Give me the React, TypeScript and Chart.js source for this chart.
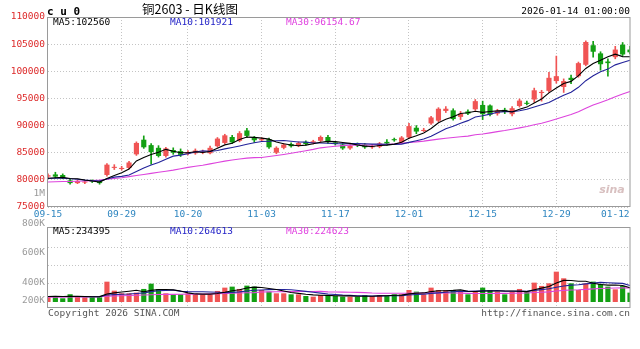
import React, { useEffect, useRef } from 'react';
import { Chart, registerables } from 'chart.js';

Chart.register(...registerables);

// ---------- data ----------
const dates = [
  '09-15','09-16','09-17','09-18','09-19','09-22','09-23','09-24','09-25','09-26','09-29','09-30',
  '10-09','10-10','10-13','10-14','10-15','10-16','10-17','10-20','10-21','10-22','10-23','10-24','10-27','10-28','10-29','10-30','10-31',
  '11-03','11-04','11-05','11-06','11-07','11-10','11-11','11-12','11-13','11-14','11-17','11-18','11-19','11-20','11-21','11-24','11-25','11-26','11-27','11-28',
  '12-01','12-02','12-03','12-04','12-05','12-08','12-09','12-10','12-11','12-12','12-15','12-16','12-17','12-18','12-19','12-22','12-23','12-24','12-25','12-26','12-29','12-30','12-31',
  '01-05','01-06','01-07','01-08','01-09','01-12','01-13','01-14',
];

const axisDates = ['09-15', '09-29', '10-20', '11-03', '11-17', '12-01', '12-15', '12-29', '01-12'];
const gridDates = ['09-29', '10-20', '11-03', '11-17', '12-01', '12-15', '12-29'];

const openP = [
  80600, 81000, 80900, 79900, 79400, 79500, 79800, 79700, 80900, 82200, 82000, 82200,
  84700, 87400, 86400, 85900, 84400, 85500, 85300, 84800, 84900, 85000, 84900, 86200, 86800, 87900, 87200, 89100, 87800,
  87300, 87500, 85000, 85900, 86600, 86300, 87000, 86800, 87200, 87900, 86900, 86500, 85800, 86600, 86500, 86000, 86100, 87000, 87500, 86900,
  87800, 89600, 89000, 90400, 90900, 92700, 92800, 91600, 92600, 93000, 93800, 93700, 92200, 92900, 92100, 93600, 94200, 94800, 96000, 96400, 98200, 97100, 98800,
  99100, 101200, 104800, 103300, 101800, 102600, 104900, 104000,
];
const highP = [
  81100, 81400, 81100, 80100, 80000, 79900, 80000, 79900, 83000, 82800, 82500, 83400,
  87000, 88100, 86700, 86300, 86000, 85900, 85700, 85400, 85700, 85500, 86200, 87800, 88400, 88200, 88900, 89500, 88000,
  87800, 87700, 86100, 86700, 86800, 87000, 87200, 87300, 88100, 88200, 87100, 86700, 86500, 86800, 86700, 86500, 86900, 87400, 87700, 88000,
  90400, 90000, 89500, 91700, 93300, 93500, 93100, 92600, 92900, 94800, 94500, 93800, 93000, 93200, 93500, 94900, 94500, 96900, 96500, 99800, 102800, 98600, 99300,
  101700, 105600, 105500, 103600, 102300, 104600, 105300, 104600,
];
const lowP = [
  80400, 80300, 80200, 79200, 79300, 79300, 79500, 79200, 80700, 81900, 81800, 82000,
  84500, 85800, 82900, 84200, 84200, 84700, 84300, 84600, 84700, 84800, 84800, 86000, 86600, 86700, 87000, 87800, 86900,
  87100, 85800, 84800, 85700, 86000, 86100, 86400, 86600, 87000, 86700, 86400, 85600, 85600, 86100, 85800, 85800, 85900, 86400, 87100, 86700,
  87600, 88500, 88900, 90200, 90700, 92400, 91000, 91100, 92000, 92800, 91100, 91800, 91900, 92200, 91800, 93400, 93800, 94300, 94500, 96100, 97800, 96100, 97700,
  98900, 101000, 102600, 100200, 99100, 102300, 102900, 103200,
];
const closeP = [
  80850, 80600, 80400, 79400, 79800, 79650, 79700, 79400, 82800, 82400, 82200, 83200,
  86800, 86000, 85100, 84400, 85800, 85000, 84600, 85100, 85400, 85100, 85900, 87600, 88200, 86900, 88600, 88100, 87300,
  87500, 86000, 85900, 86500, 86200, 86800, 86600, 87100, 87900, 87000, 86600, 85800, 86300, 86400, 86000, 86200, 86700, 86700, 87300, 87800,
  89900, 88900, 89200, 91500, 93100, 93100, 91200, 92200, 92200, 94500, 92100, 92000, 92700, 92500, 93200, 94600, 94000, 96500, 96200, 98800, 99100, 98200, 98400,
  101500, 105400, 103600, 101300, 101500, 104000, 103100, 103500,
];
const volume = [
  87600, 99800, 61200, 128400, 88300, 77100, 76800, 77400, 337200, 187900, 144300, 143800,
  155200, 216400, 304100, 215600, 144100, 127300, 126800, 143600, 127200, 126900, 127500, 183100, 238200, 254800, 216300, 271200, 255400,
  199100, 172300, 143900, 144200, 127100, 126600, 99700, 88200, 116100, 115800, 100200, 87900, 88400, 87800, 116300, 99600, 116200, 100400, 127100, 126700,
  199300, 171800, 127400, 238100, 198800, 199200, 199600, 172100, 127200, 171700, 238400, 198900, 172200, 126900, 172400, 216100, 171900, 321300, 266200, 310100, 503400, 393200, 309800,
  199400, 310300, 338100, 299200, 254700, 210100, 266300, 155200,
];

// moving-average values at the start of the window
const ma5Head = [80300, 80400, 80450, 80250];
const ma10Head = [80250, 80300, 80300, 80200, 80100, 79950, 79850, 79800, 80150];
const ma30Head = [
  79600, 79650, 79700, 79700, 79750, 79800, 79850, 79950, 80100, 80250, 80400, 80600, 80800, 81000, 81200,
  81400, 81600, 81800, 82050, 82300, 82500, 82700, 82950, 83200, 83450, 83650, 83850, 84000, 84100,
];
const volMa5Head = [92000, 93000, 90000, 94000];
const volMa10Head = [91000, 92000, 91000, 92000, 91000, 89000, 88000, 88000, 115000];
const volMa30Head = [
  80000, 81000, 81000, 83000, 84000, 85000, 86000, 88000, 96000, 100000, 104000, 107000, 111000, 116000, 121000,
  124000, 126000, 127000, 128000, 130000, 131000, 133000, 134000, 137000, 141000, 145000, 148000, 152000, 156000,
];

const priceMaLabels = ['MA5:102560', 'MA10:101921', 'MA30:96154.67'];
const volMaLabels = ['MA5:234395', 'MA10:264613', 'MA30:224623'];
const volAxisLabels = ['800K', '600K', '400K', '200K'];
const volGridValues = [300000, 600000, 900000];
const titleText = '铜2603 - 日K线图';
const symbolText = 'c u 0';
const timeText = '2026-01-14 01:00:00';
const copyrightText = 'Copyright 2026 SINA.COM';
const urlText = 'http://finance.sina.com.cn';

// ---------- styles ----------
const RED = '#f05454';
const GREEN = '#13a013';
const MA_COLORS = ['#000000', '#23239a', '#dd44dd'];
const LEGEND_COLORS = ['#000000', '#2424c8', '#e040e0'];
const MONO = '"DejaVu Sans Mono", monospace';
const GRID = '#c4c4c4';
const FRAME = '#9a9a9a';

function movingAverage(values: number[], n: number, head: number[]) {
  return values.map((_, i) => {
    if (i < n - 1) return head[i];
    let s = 0;
    for (let k = i - n + 1; k <= i; k++) s += values[k];
    return s / n;
  });
}

const candleColors = closeP.map((c, i) => (c >= openP[i] ? RED : GREEN));

function drawText(ctx: CanvasRenderingContext2D, s: string, x: number, y: number, color: string, font: string, align: CanvasTextAlign = 'left') {
  ctx.save();
  ctx.font = font;
  ctx.fillStyle = color;
  ctx.textAlign = align;
  ctx.textBaseline = 'middle';
  ctx.fillText(s, x, y);
  ctx.restore();
}

function drawFrame(chart: any) {
  const a = chart.chartArea;
  const ctx = chart.ctx;
  ctx.save();
  ctx.strokeStyle = FRAME;
  ctx.lineWidth = 1;
  ctx.strokeRect(Math.round(a.left) - 0.5, Math.round(a.top) + 0.5, Math.round(a.right - a.left) + 0.5, Math.round(a.bottom - a.top) - 1);
  ctx.restore();
}

const gridColor = (ctx: any) => (gridDates.includes(dates[ctx.index]) ? GRID : 'rgba(0,0,0,0)');

const pricePlugin = {
  id: 'priceDecor',
  afterDraw(chart: any) {
    const ctx = chart.ctx as CanvasRenderingContext2D;
    const a = chart.chartArea;
    drawFrame(chart);
    drawText(ctx, symbolText, a.left - 1, 12, '#000', `bold 11px ${MONO}`);
    drawText(ctx, titleText, 190, 9, '#000', '12.5px "Noto Sans CJK SC", sans-serif', 'center');
    drawText(ctx, timeText, a.right, 12, '#000', `9.5px ${MONO}`, 'right');
    const xs = [a.left + 5, a.left + 122, a.left + 238];
    priceMaLabels.forEach((s, k) => drawText(ctx, s, xs[k], a.top + 6, LEGEND_COLORS[k], `9.5px ${MONO}`));
    drawText(ctx, '1M', a.left - 3, a.bottom - 13, '#999', `9.5px ${MONO}`, 'right');
    drawText(ctx, 'sina', a.right - 18, a.bottom - 17, 'rgba(190,150,150,0.6)', `italic bold 11px "DejaVu Sans", sans-serif`, 'center');
  },
};

const volPlugin = {
  id: 'volDecor',
  afterDraw(chart: any) {
    const ctx = chart.ctx as CanvasRenderingContext2D;
    const a = chart.chartArea;
    drawFrame(chart);
    const xs = [a.left + 5, a.left + 122, a.left + 238];
    volMaLabels.forEach((s, k) => drawText(ctx, s, xs[k], a.top + 5, LEGEND_COLORS[k], `9.5px ${MONO}`));
    const h = a.bottom - a.top;
    const ys = [a.top - 3, a.top + h * 0.32, a.top + h * 0.68, a.bottom - 7];
    volAxisLabels.forEach((s, k) => drawText(ctx, s, a.left - 3, ys[k], '#9a9a9a', `9.5px ${MONO}`, 'right'));
    drawText(ctx, copyrightText, a.left, a.bottom + 6, '#555', `9.5px ${MONO}`);
    drawText(ctx, urlText, a.right, a.bottom + 6, '#555', `9.5px ${MONO}`, 'right');
  },
};

function lineDs(label: string, data: number[], color: string) {
  return {
    type: 'line' as const,
    label,
    data,
    borderColor: color,
    borderWidth: 1.1,
    pointRadius: 0,
    tension: 0,
    order: 0,
  };
}

export default function App() {
  const priceRef = useRef<HTMLCanvasElement>(null);
  const volRef = useRef<HTMLCanvasElement>(null);

  useEffect(() => {
    const ma5 = movingAverage(closeP, 5, ma5Head);
    const ma10 = movingAverage(closeP, 10, ma10Head);
    const ma30 = movingAverage(closeP, 30, ma30Head);
    const vma5 = movingAverage(volume, 5, volMa5Head);
    const vma10 = movingAverage(volume, 10, volMa10Head);
    const vma30 = movingAverage(volume, 30, volMa30Head);

    const xCommon = (showLabels: boolean, height: number) => ({
      type: 'category' as const,
      offset: false,
      grid: { offset: false, color: gridColor, drawTicks: false, lineWidth: 1 },
      border: { display: false, dash: [1, 2] },
      ticks: {
        display: showLabels,
        autoSkip: false,
        maxRotation: 0,
        minRotation: 0,
        padding: 2,
        color: '#2f86c0',
        font: { family: MONO, size: 9.5 },
        callback: (_v: any, i: number) => (axisDates.includes(dates[i]) ? dates[i] : ''),
      },
      afterFit: (s: any) => { s.height = height; },
    });

    const priceChart = new Chart(priceRef.current!, {
      type: 'bar',
      data: {
        labels: dates,
        datasets: [
          lineDs('MA5', ma5, MA_COLORS[0]),
          lineDs('MA10', ma10, MA_COLORS[1]),
          lineDs('MA30', ma30, MA_COLORS[2]),
          {
            type: 'bar',
            label: 'body',
            data: openP.map((o, i) => [o, closeP[i]]) as any,
            backgroundColor: candleColors,
            barPercentage: 0.7,
            categoryPercentage: 1,
            minBarLength: 1,
            grouped: false,
            order: 1,
          } as any,
          {
            type: 'bar',
            label: 'wick',
            data: lowP.map((l, i) => [l, highP[i]]) as any,
            backgroundColor: candleColors,
            barThickness: 1,
            grouped: false,
            order: 2,
          } as any,
        ],
      },
      options: {
        animation: false,
        responsive: false,
        maintainAspectRatio: false,
        layout: { padding: { left: 0, right: 10, top: 17, bottom: 127 } },
        plugins: { legend: { display: false }, tooltip: { enabled: false } },
        scales: {
          x: xCommon(true, 15) as any,
          y: {
            min: 75000,
            max: 110000,
            grid: { color: GRID, drawTicks: false },
            border: { display: false, dash: [1, 2] },
            ticks: {
              stepSize: 5000,
              padding: 3,
              color: '#dd2a2a',
              font: { family: MONO, size: 9.5 },
              callback: (v: any) => String(v),
            },
            afterFit: (s: any) => { s.width = 48; },
          } as any,
        },
      },
      plugins: [pricePlugin],
    });

    const volChart = new Chart(volRef.current!, {
      type: 'bar',
      data: {
        labels: dates,
        datasets: [
          lineDs('VMA5', vma5, MA_COLORS[0]),
          lineDs('VMA10', vma10, MA_COLORS[1]),
          lineDs('VMA30', vma30, MA_COLORS[2]),
          {
            type: 'bar',
            label: 'volume',
            data: volume,
            backgroundColor: candleColors,
            barPercentage: 0.7,
            categoryPercentage: 1,
            grouped: false,
            order: 1,
          } as any,
        ],
      },
      options: {
        animation: false,
        responsive: false,
        maintainAspectRatio: false,
        layout: { padding: { left: 0, right: 10, top: 227, bottom: 41 } },
        plugins: { legend: { display: false }, tooltip: { enabled: false } },
        scales: {
          x: xCommon(false, 0) as any,
          y: {
            min: -100000,
            max: 1245000,
            grid: { color: GRID, drawTicks: false },
            border: { display: false, dash: [1, 2] },
            ticks: { display: false },
            afterBuildTicks: (s: any) => { s.ticks = volGridValues.map((v) => ({ value: v })); },
            afterFit: (s: any) => { s.width = 48; },
          } as any,
        },
      },
      plugins: [volPlugin],
    });

    return () => {
      priceChart.destroy();
      volChart.destroy();
    };
  }, []);

  return (
    <div style={{ position: 'absolute', left: 0, top: 0, width: 640, height: 349, background: '#fff' }}>
      <canvas ref={priceRef} width={640} height={349} style={{ position: 'absolute', left: 0, top: 0 }} />
      <canvas ref={volRef} width={640} height={349} style={{ position: 'absolute', left: 0, top: 0 }} />
    </div>
  );
}
